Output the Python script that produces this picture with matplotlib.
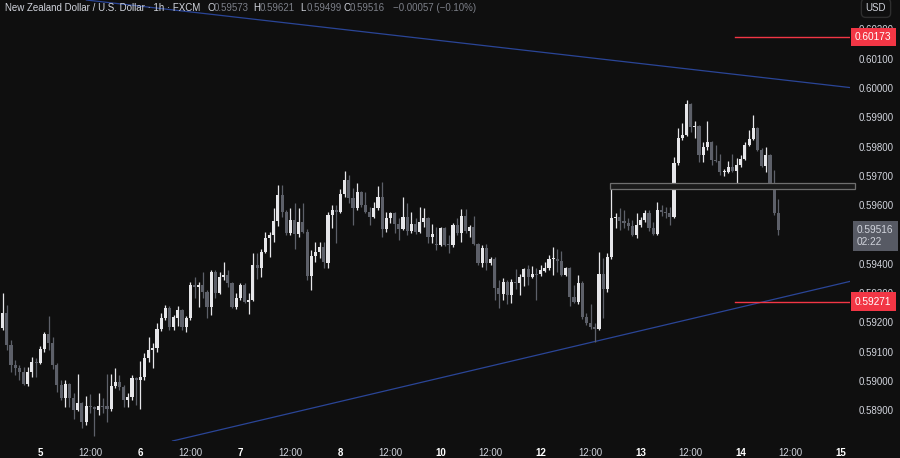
import numpy as np
import matplotlib.pyplot as plt
import matplotlib.transforms as mtransforms
from matplotlib.patches import Rectangle

plt.rcParams['font.family'] = ['Liberation Sans', 'DejaVu Sans']

# NZD/USD 1h candles (FXCM)
opens = [
    0.59181, 0.59232, 0.59123, 0.59055, 0.59045, 0.59031, 0.58989, 0.59031, 0.59065, 0.59062,
    0.59109, 0.59160, 0.59130, 0.59055, 0.58986, 0.58942, 0.58989, 0.58942, 0.58901, 0.58925,
    0.58860, 0.58915, 0.58911, 0.58901, 0.58915, 0.58915, 0.58904, 0.58982, 0.58996, 0.58979,
    0.58935, 0.58945, 0.59011, 0.59003, 0.59014, 0.59079, 0.59106, 0.59113, 0.59177, 0.59215,
    0.59249, 0.59184, 0.59215, 0.59242, 0.59184, 0.59215, 0.59328, 0.59321, 0.59328, 0.59304,
    0.59252, 0.59372, 0.59301, 0.59355, 0.59362, 0.59335, 0.59252, 0.59284, 0.59328, 0.59269,
    0.59276, 0.59396, 0.59386, 0.59440, 0.59488, 0.59498, 0.59546, 0.59635, 0.59577, 0.59505,
    0.59549, 0.59501, 0.59542, 0.59508, 0.59358, 0.59427, 0.59440, 0.59457, 0.59403, 0.59567,
    0.59584, 0.59577, 0.59638, 0.59686, 0.59625, 0.59591, 0.59645, 0.59601, 0.59577, 0.59560,
    0.59591, 0.59628, 0.59518, 0.59557, 0.59574, 0.59535, 0.59518, 0.59560, 0.59512, 0.59535,
    0.59508, 0.59542, 0.59557, 0.59491, 0.59467, 0.59464, 0.59522, 0.59467, 0.59464, 0.59532,
    0.59505, 0.59563, 0.59512, 0.59525, 0.59467, 0.59403, 0.59454, 0.59403, 0.59416, 0.59318,
    0.59297, 0.59338, 0.59294, 0.59338, 0.59335, 0.59355, 0.59382, 0.59355, 0.59365, 0.59365,
    0.59376, 0.59386, 0.59416, 0.59416, 0.59410, 0.59362, 0.59386, 0.59287, 0.59269, 0.59335,
    0.59218, 0.59198, 0.59184, 0.59177, 0.59365, 0.59314, 0.59423, 0.59557, 0.59560, 0.59546,
    0.59539, 0.59529, 0.59498, 0.59532, 0.59549, 0.59574, 0.59522, 0.59501, 0.59584, 0.59577,
    0.59574, 0.59560, 0.59744, 0.59830, 0.59840, 0.59945, 0.59867, 0.59871, 0.59771, 0.59799,
    0.59816, 0.59754, 0.59751, 0.59713, 0.59714, 0.59730, 0.59717, 0.59737, 0.59757, 0.59806,
    0.59826, 0.59864, 0.59788, 0.59734, 0.59771, 0.59676, 0.59573,
]
highs = [
    0.59301, 0.59259, 0.59140, 0.59072, 0.59055, 0.59048, 0.59048, 0.59082, 0.59079, 0.59120,
    0.59167, 0.59222, 0.59150, 0.59062, 0.59003, 0.59003, 0.58993, 0.58959, 0.59024, 0.58928,
    0.58949, 0.58955, 0.58915, 0.58959, 0.58942, 0.59024, 0.59024, 0.59045, 0.59021, 0.58986,
    0.58959, 0.59021, 0.59014, 0.59069, 0.59096, 0.59150, 0.59130, 0.59198, 0.59232, 0.59259,
    0.59256, 0.59225, 0.59256, 0.59245, 0.59222, 0.59338, 0.59355, 0.59338, 0.59372, 0.59311,
    0.59379, 0.59379, 0.59372, 0.59406, 0.59379, 0.59338, 0.59301, 0.59335, 0.59335, 0.59301,
    0.59437, 0.59437, 0.59450, 0.59508, 0.59508, 0.59591, 0.59669, 0.59669, 0.59584, 0.59591,
    0.59608, 0.59591, 0.59608, 0.59518, 0.59447, 0.59474, 0.59474, 0.59474, 0.59577, 0.59601,
    0.59601, 0.59655, 0.59717, 0.59703, 0.59659, 0.59676, 0.59649, 0.59645, 0.59594, 0.59611,
    0.59666, 0.59679, 0.59577, 0.59577, 0.59577, 0.59557, 0.59628, 0.59608, 0.59577, 0.59557,
    0.59594, 0.59591, 0.59560, 0.59535, 0.59525, 0.59525, 0.59525, 0.59498, 0.59539, 0.59557,
    0.59587, 0.59587, 0.59532, 0.59563, 0.59471, 0.59464, 0.59467, 0.59423, 0.59423, 0.59345,
    0.59352, 0.59345, 0.59348, 0.59382, 0.59365, 0.59386, 0.59396, 0.59392, 0.59386, 0.59396,
    0.59406, 0.59430, 0.59457, 0.59450, 0.59444, 0.59389, 0.59389, 0.59328, 0.59362, 0.59341,
    0.59232, 0.59262, 0.59198, 0.59440, 0.59420, 0.59437, 0.59676, 0.59574, 0.59591, 0.59584,
    0.59557, 0.59549, 0.59574, 0.59560, 0.59584, 0.59584, 0.59542, 0.59611, 0.59601, 0.59594,
    0.59594, 0.59764, 0.59864, 0.59881, 0.59959, 0.59949, 0.59888, 0.59874, 0.59816, 0.59888,
    0.59820, 0.59806, 0.59774, 0.59723, 0.59751, 0.59774, 0.59761, 0.59771, 0.59816, 0.59857,
    0.59908, 0.59866, 0.59795, 0.59799, 0.59774, 0.59720, 0.59621,
]
lows = [
    0.59174, 0.59106, 0.59031, 0.59021, 0.59003, 0.58986, 0.58982, 0.59014, 0.59014, 0.59058,
    0.59099, 0.59106, 0.59041, 0.58962, 0.58935, 0.58911, 0.58911, 0.58870, 0.58898, 0.58840,
    0.58850, 0.58891, 0.58812, 0.58884, 0.58891, 0.58860, 0.58898, 0.58976, 0.58969, 0.58911,
    0.58911, 0.58935, 0.58918, 0.58904, 0.59003, 0.59065, 0.59045, 0.59099, 0.59171, 0.59208,
    0.59174, 0.59174, 0.59188, 0.59174, 0.59167, 0.59208, 0.59284, 0.59252, 0.59284, 0.59215,
    0.59225, 0.59284, 0.59297, 0.59345, 0.59321, 0.59249, 0.59245, 0.59276, 0.59266, 0.59228,
    0.59273, 0.59348, 0.59355, 0.59437, 0.59423, 0.59474, 0.59529, 0.59560, 0.59498, 0.59498,
    0.59450, 0.59491, 0.59505, 0.59345, 0.59311, 0.59406, 0.59420, 0.59386, 0.59386, 0.59522,
    0.59471, 0.59574, 0.59628, 0.59608, 0.59532, 0.59584, 0.59594, 0.59574, 0.59532, 0.59557,
    0.59584, 0.59491, 0.59508, 0.59539, 0.59505, 0.59481, 0.59515, 0.59498, 0.59505, 0.59501,
    0.59505, 0.59525, 0.59471, 0.59471, 0.59447, 0.59460, 0.59460, 0.59437, 0.59457, 0.59498,
    0.59474, 0.59505, 0.59491, 0.59464, 0.59396, 0.59389, 0.59379, 0.59396, 0.59276, 0.59249,
    0.59276, 0.59262, 0.59266, 0.59314, 0.59294, 0.59324, 0.59328, 0.59352, 0.59276, 0.59358,
    0.59372, 0.59379, 0.59362, 0.59372, 0.59358, 0.59358, 0.59256, 0.59266, 0.59262, 0.59211,
    0.59191, 0.59177, 0.59133, 0.59174, 0.59215, 0.59304, 0.59416, 0.59522, 0.59515, 0.59522,
    0.59515, 0.59494, 0.59488, 0.59525, 0.59542, 0.59512, 0.59498, 0.59498, 0.59563, 0.59557,
    0.59532, 0.59557, 0.59737, 0.59823, 0.59837, 0.59850, 0.59830, 0.59747, 0.59747, 0.59788,
    0.59737, 0.59747, 0.59703, 0.59700, 0.59710, 0.59713, 0.59669, 0.59730, 0.59754, 0.59802,
    0.59823, 0.59785, 0.59730, 0.59713, 0.59662, 0.59567, 0.59499,
]
closes = [
    0.59232, 0.59123, 0.59055, 0.59045, 0.59031, 0.58989, 0.59031, 0.59065, 0.59062, 0.59109,
    0.59160, 0.59130, 0.59055, 0.58986, 0.58942, 0.58989, 0.58942, 0.58901, 0.58925, 0.58860,
    0.58915, 0.58911, 0.58904, 0.58915, 0.58911, 0.58904, 0.58982, 0.58996, 0.58979, 0.58935,
    0.58945, 0.59011, 0.59003, 0.59014, 0.59079, 0.59106, 0.59113, 0.59177, 0.59215, 0.59249,
    0.59184, 0.59218, 0.59242, 0.59184, 0.59215, 0.59328, 0.59321, 0.59328, 0.59304, 0.59252,
    0.59372, 0.59301, 0.59355, 0.59362, 0.59335, 0.59252, 0.59284, 0.59328, 0.59269, 0.59276,
    0.59396, 0.59386, 0.59440, 0.59488, 0.59498, 0.59546, 0.59635, 0.59577, 0.59505, 0.59549,
    0.59501, 0.59542, 0.59508, 0.59358, 0.59427, 0.59440, 0.59457, 0.59406, 0.59567, 0.59584,
    0.59577, 0.59638, 0.59686, 0.59625, 0.59591, 0.59645, 0.59601, 0.59577, 0.59560, 0.59591,
    0.59628, 0.59518, 0.59557, 0.59574, 0.59535, 0.59518, 0.59560, 0.59512, 0.59535, 0.59508,
    0.59542, 0.59557, 0.59491, 0.59501, 0.59464, 0.59522, 0.59464, 0.59464, 0.59532, 0.59505,
    0.59563, 0.59512, 0.59525, 0.59467, 0.59403, 0.59454, 0.59403, 0.59416, 0.59318, 0.59297,
    0.59338, 0.59294, 0.59338, 0.59335, 0.59355, 0.59382, 0.59355, 0.59365, 0.59362, 0.59379,
    0.59386, 0.59416, 0.59417, 0.59410, 0.59362, 0.59386, 0.59287, 0.59269, 0.59335, 0.59218,
    0.59198, 0.59184, 0.59177, 0.59365, 0.59314, 0.59423, 0.59557, 0.59560, 0.59546, 0.59539,
    0.59529, 0.59498, 0.59532, 0.59549, 0.59574, 0.59522, 0.59501, 0.59584, 0.59577, 0.59574,
    0.59560, 0.59744, 0.59830, 0.59840, 0.59945, 0.59867, 0.59871, 0.59771, 0.59799, 0.59816,
    0.59754, 0.59751, 0.59713, 0.59714, 0.59730, 0.59717, 0.59737, 0.59757, 0.59806, 0.59826,
    0.59864, 0.59788, 0.59734, 0.59771, 0.59676, 0.59574, 0.59516,
]

# time axis: bar index of each label
tick_pos = [9, 21, 33, 45, 57, 69, 81, 93, 105, 117, 129, 141, 153, 165, 177, 189, 201]
tick_labels = ['5', '12:00', '6', '12:00', '7', '12:00', '8', '12:00', '10', '12:00',
               '12', '12:00', '13', '12:00', '14', '12:00', '15']

price_ticks = [0.589, 0.590, 0.591, 0.592, 0.593, 0.594, 0.596, 0.597, 0.598, 0.599,
               0.600, 0.601, 0.602]

# drawings
resist_line = [(30.5, 0.60283), (202.7, 0.60002)]
support_line = [(43.7, 0.58805), (202.7, 0.59338)]
zone_start, zone_top, zone_bottom = 145.6, 0.59676, 0.59655
level_start = 175.6
levels = [0.60173, 0.59271]
countdown = '02:22'

BG = '#0f0f0f'
UP = '#e6e6e9'
DOWN = '#5d6069'
TXT = '#d1d4dc'
RED = '#f23645'
BLUE = '#2a4597'

fig = plt.figure(figsize=(9, 4.58), dpi=100, facecolor=BG)
ax = fig.add_axes([0, 17 / 458, 850 / 900, 441 / 458], facecolor=BG)

o = np.array(opens)
h = np.array(highs)
l = np.array(lows)
c = np.array(closes)
idx = np.arange(len(c))
up = c >= o
colors = np.where(up, UP, DOWN)

ax.vlines(idx, l, h, colors=colors, linewidth=0.9, zorder=2)
body = np.maximum(np.abs(c - o), 0.00003)
ax.bar(idx, body, bottom=np.minimum(o, c), width=0.75, color=colors,
       edgecolor='none', zorder=3)

# trend lines
ax.axline(resist_line[0], resist_line[1], color=BLUE, linewidth=0.9, zorder=1)
ax.axline(support_line[0], support_line[1], color=BLUE, linewidth=0.9, zorder=1)

# horizontal zone
ax.add_patch(Rectangle((zone_start, zone_bottom), 204.4 - zone_start, zone_top - zone_bottom,
                       facecolor='#1a1a1a', edgecolor='#6f6f6f', linewidth=0.9,
                       zorder=4, clip_on=False))

# red levels
for lv in levels:
    ax.plot([level_start, 203.2], [lv, lv], color=RED, linewidth=1.0, zorder=1)

ax.set_xlim(-0.65, 203.2)
ax.set_ylim(0.58795, 0.60300)

for s in ax.spines.values():
    s.set_visible(False)

ax.yaxis.tick_right()
ax.set_yticks(price_ticks)
ax.set_yticklabels(['{:.5f}'.format(p) for p in price_ticks])
ax.tick_params(axis='y', length=0, pad=6, labelsize=7, labelcolor=TXT)

ax.set_xticks(tick_pos)
ax.set_xticklabels(tick_labels)
ax.tick_params(axis='x', length=0, pad=5, labelsize=7, labelcolor=TXT)
for t in ax.get_xticklabels():
    if ':' not in t.get_text():
        t.set_fontweight('bold')
        t.set_color('white')

trans = mtransforms.blended_transform_factory(ax.transAxes, ax.transData)
for lv in levels:
    ax.text(1.006, lv, '{:.5f}'.format(lv), transform=trans, ha='left', va='center',
            fontsize=7.3, color='white', zorder=10, clip_on=False,
            bbox=dict(boxstyle='square,pad=0.4', facecolor=RED, edgecolor='none'))

ax.annotate('{:.5f}\n{}'.format(closes[-1], countdown), xy=(1.006, closes[-1]),
            xycoords=trans, xytext=(2, -6), textcoords='offset pixels',
            ha='left', va='center', fontsize=7.3, color=TXT, linespacing=1.25,
            zorder=10, annotation_clip=False,
            bbox=dict(boxstyle='square,pad=0.4', facecolor='#575a64', edgecolor='none'))

# header
fy = 1 - 8 / 458
fig.text(5 / 900, fy, 'New Zealand Dollar / U.S. Dollar \u00b7 1h \u00b7 FXCM', color=TXT,
         fontsize=7, va='center')
ohlc = [('O', opens[-1], 207), ('H', highs[-1], 253), ('L', lows[-1], 300),
        ('C', closes[-1], 343)]
for lab, val, px in ohlc:
    fig.text(px / 900, fy, lab, color=TXT, fontsize=7, va='center')
    fig.text((px + 7) / 900, fy, '{:.5f}'.format(val), color='#7c7f88', fontsize=7,
             va='center')
chg = closes[-1] - opens[-1]
fig.text(393 / 900, fy, '\u2212{:.5f} (\u2212{:.2f}%)'.format(abs(chg), abs(chg) / opens[-1] * 100),
         color='#7c7f88', fontsize=7, va='center')

fig.text(876 / 900, fy, 'USD', color=TXT, fontsize=7, va='center', ha='center',
         bbox=dict(boxstyle='round,pad=0.45', facecolor=BG, edgecolor='#2e2e2e'))

fig.savefig('out.png', dpi=100, facecolor=BG)
